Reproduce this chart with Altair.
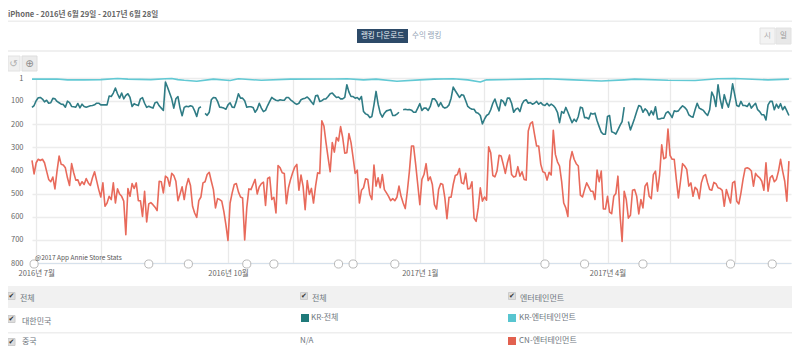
import altair as alt
import pandas as pd

N = None
red_rank = [
357,415,367,352,357,352,367,403,439,449,429,480,403,338,374,377,389,432,465,371,410,442,441,465,449,461,435,454,465,432,406,444,483,515,454,555,541,512,526,454,541,480,502,512,533,678,478,512,457,478,454,531,531,599,490,623,545,539,548,559,574,447,449,497,425,432,468,413,422,447,531,502,471,526,468,435,465,555,584,603,531,515,454,449,418,408,447,483,562,522,526,533,
577,635,703,541,497,461,457,493,515,519,700,562,480,483,461,439,502,471,457,451,551,435,429,526,516,584,379,389,410,413,544,475,439,410,386,374,486,420,468,570,444,504,478,541,468,410,413,186,208,280,345,406,280,321,258,273,211,258,326,324,241,280,345,413,399,541,486,475,436,439,504,526,377,468,432,475,418,483,497,512,531,522,531,516,468,512,541,565,490,403,295,295,
374,461,548,439,418,371,444,428,461,548,567,483,457,461,519,609,516,516,461,422,418,392,454,458,413,480,478,449,606,620,562,475,533,515,529,298,324,422,428,403,335,338,374,413,367,334,418,429,425,384,425,406,439,442,230,198,190,244,295,295,374,406,410,442,408,420,227,331,363,381,447,541,562,599,360,319,352,371,381,507,515,483,454,471,490,490,526,399,449,403,567,
567,512,580,587,512,500,425,591,707,490,526,606,594,486,483,512,588,526,562,468,454,512,522,418,403,490,418,290,350,345,222,335,352,352,439,519,447,371,381,396,468,454,512,473,483,522,454,425,418,454,483,486,452,457,475,478,486,555,483,512,541,454,447,533,545,497,439,392,389,393,403,468,413,425,432,447,486,367,490,432,422,449,439,403,352,403,447,533,360,
]
teal_rank = [
128,120,99,86,85,92,104,97,110,108,89,91,102,108,114,115,127,101,107,124,125,127,111,130,114,124,127,124,121,120,117,110,110,117,117,117,117,79,81,66,44,69,88,66,91,76,69,85,124,112,117,120,91,86,110,128,123,127,131,108,105,121,131,141,18,41,66,91,131,91,81,131,164,128,123,125,121,124,143,167,131,125,N,154,162,149,95,85,86,102,127,128,
131,136,117,108,127,128,102,69,88,88,99,127,125,125,128,149,136,110,131,146,141,120,102,85,92,97,99,95,97,97,85,85,95,102,110,115,110,95,91,88,83,92,105,115,78,76,102,99,92,91,81,69,66,76,85,83,91,91,85,30,62,81,81,88,85,95,81,146,156,160,172,167,117,59,114,153,170,153,143,140,137,163,163,157,149,N,138,136,138,137,140,149,
149,131,112,141,131,131,141,124,91,91,102,124,107,125,131,127,117,88,40,56,70,85,73,76,99,124,131,136,136,150,153,163,199,179,163,157,138,110,92,120,143,95,102,120,88,88,110,149,136,131,146,114,99,95,110,107,114,110,102,114,107,117,120,110,121,114,120,131,149,194,146,153,128,149,172,194,179,189,167,127,131,172,172,178,153,157,153,186,211,235,244,
244,167,163,233,237,243,225,206,189,127,N,189,225,201,175,146,120,124,149,134,143,163,143,160,125,178,178,175,175,153,146,157,172,143,146,143,131,121,128,138,160,167,170,138,110,131,136,141,153,163,138,62,81,124,30,91,131,73,105,127,88,26,73,120,124,102,120,120,124,110,131,120,110,138,146,160,160,182,117,102,102,138,114,131,112,138,124,143,163,
]
cyan_day = [0,6,12,17,25,33,41,46,57,64,67,70,73,79,87,95,99,110,124,145,151,159,165,175,186,193,202,209,215,218,238,247,257,273,284,289,305,318,329,337,353,363]
cyan_rank = [6,6,5,9,9,8,3,6,8,4,3,8,11,15,6,12,4,11,6,5,4,9,6,15,9,6,4,9,18,9,6,4,8,14,9,6,11,12,4,3,9,6]
flag_day = [1,56,75,103,116,147,154,174,246,265,293,335,355]

month_year = [2016,2016,2016,2016,2016,2016,2017,2017,2017,2017,2017,2017]
month_num = [7,8,9,10,11,12,1,2,3,4,5,6]
rank_ticks = [1,100,200,300,400,500,600,700,800]

TITLE = "iPhone - 2016년 6월 29일 - 2017년 6월 28일"
BTN_A = "랭킹 다운로드"
BTN_B = "수익 랭킹"
COPY = "@2017 App Annie Store Stats"
C_TEAL, C_CYAN, C_RED = "#2f7c85", "#62c9d4", "#e86a5b"
FONT = "Noto Sans CJK KR"

start = pd.Timestamp("2016-06-29")
def when(days):
    return [(start + pd.Timedelta(days=int(d))).strftime("%Y-%m-%dT00:00:00") for d in days]

xscale = alt.Scale(domain=[alt.DateTime(year=2016, month=6, date=29), alt.DateTime(year=2017, month=6, date=28)], nice=False)
yscale = alt.Scale(domain=[1, 800], reverse=True, nice=False, zero=False)
xaxis = alt.Axis(
    values=[alt.DateTime(year=y, month=m, date=1) for y, m in zip(month_year, month_num)],
    labelExpr="month(datum.value)%3==0 ? timeFormat(datum.value,'%Y년 %-m월') : ''",
    title=None, grid=True, gridColor="#e9e9e9", gridWidth=1.3, tickSize=0, labelPadding=6,
    labelFontSize=7.5, labelColor="#666666", labelFont=FONT, labelOverlap=False, labelFlush=False,
    domainColor="#d6e1ec", domainWidth=1.2,
)
yaxis = alt.Axis(
    values=rank_ticks, title=None, grid=True, gridColor="#ececec", gridWidth=1.5, tickSize=0, labelPadding=9,
    labelFontSize=7.5, labelColor="#666666", labelFont=FONT, domain=False,
)

def series(days, vals, color):
    df = pd.DataFrame({"date": when(days), "rank": vals})
    return alt.Chart(df).mark_line(color=color, strokeWidth=1.6, strokeJoin="round").encode(
        x=alt.X("date:T", scale=xscale, axis=xaxis),
        y=alt.Y("rank:Q", scale=yscale, axis=yaxis),
    )

OX, OY = 32, 78
ONE = alt.Data(values=[{"a": 1}])
def box(x0, y0, x1, y1, fill, stroke=None):
    kw = {"stroke": stroke, "strokeWidth": 1} if stroke else {}
    return alt.Chart(ONE).mark_rect(fill=fill, **kw).encode(
        x=alt.value(x0 - OX), x2=alt.value(x1 - OX), y=alt.value(y0 - OY), y2=alt.value(y1 - OY))
def label(s, x, y, size=8, color="#6f7780", align="left", weight="normal", font=FONT):
    return alt.Chart(ONE).mark_text(text=s, fontSize=size, color=color, align=align, baseline="middle",
                                    fontWeight=weight, font=font).encode(x=alt.value(x - OX), y=alt.value(y - OY))
def check(x, y):
    return [box(x - 3.5, y - 3.5, x + 3.5, y + 3.5, "#dddddd", "#cccccc"),
            label("✔", x, y, size=7, color="#333333", align="center", font="DejaVu Sans")]

chrome = [
    label(TITLE, 8, 14.5, size=7.6, color="#666666", weight="bold"),
    box(8, 20.5, 792, 22, "#eeeeee"), box(8, 50, 792, 52, "#f0f0f0"),
    box(357, 29, 408, 43, "#2d4a68"), label(BTN_A, 382.5, 36, size=7.5, color="#e8edf2", align="center"),
    label(BTN_B, 412, 36, size=7.5, color="#93a3b5"),
    box(760, 28, 775, 44, "#f3f3f3", "#e2e2e2"), box(776, 28, 791, 44, "#e8e8e8", "#e2e2e2"),
    label("시", 767.5, 36, size=7.5, color="#aaaaaa", align="center"),
    label("일", 783.5, 36, size=7.5, color="#999999", align="center"),
    box(8, 56, 20, 71, "#f0f0f0", "#e2e2e2"), box(22, 56, 37, 71, "#ebebeb", "#dddddd"),
    label("↺", 13.5, 63.5, size=10, color="#b0b0b0", align="center", font="DejaVu Sans"),
    label("⊕", 29.5, 63.5, size=10, color="#8a8a8a", align="center", font="DejaVu Sans"),
    label(COPY, 35, 257.5, size=6.5, color="#555555"),
    box(8, 286, 792, 308, "#f1f1f1"), box(8, 332, 792, 333.5, "#eeeeee"),
    label("전체", 20, 299), label("전체", 312, 299), label("엔터테인먼트", 520, 299),
    label("대한민국", 22, 322), label("중국", 22, 342),
    box(301, 314, 309, 322, "#1f7a7a"), label("KR-전체", 311, 318),
    box(508, 314, 516, 322, "#58c5d0"), label("KR-엔터테인먼트", 519, 318),
    label("N/A", 300, 341),
    box(508, 337, 516, 345, "#e2614f"), label("CN-엔터테인먼트", 519, 341),
]
for cx, cy in [(11.5, 296), (304, 296), (512, 296), (11.5, 319), (11.5, 342)]:
    chrome += check(cx, cy)

flags = alt.Chart(pd.DataFrame({"date": when(flag_day), "rank": [800] * len(flag_day)})).mark_point(
    shape="circle", filled=True, fill="white", stroke="#b9b9b9", strokeWidth=1, size=66, opacity=1, yOffset=1
).encode(x=alt.X("date:T", scale=xscale, axis=xaxis), y=alt.Y("rank:Q", scale=yscale, axis=yaxis))

main = [
    series(range(len(red_rank)), red_rank, C_RED),
    series(range(len(teal_rank)), teal_rank, C_TEAL),
    series(cyan_day, cyan_rank, C_CYAN),
    flags,
]

chart = alt.layer(*main, *chrome).properties(
    width=759, height=185,
    autosize=alt.AutoSizeParams(type="none"),
    padding={"left": 24, "top": 70, "right": 1, "bottom": 84},
).configure_view(stroke=None).configure_axis(labelFont=FONT)

chart.save("out.html", embed_options={"renderer": "svg", "actions": False})
